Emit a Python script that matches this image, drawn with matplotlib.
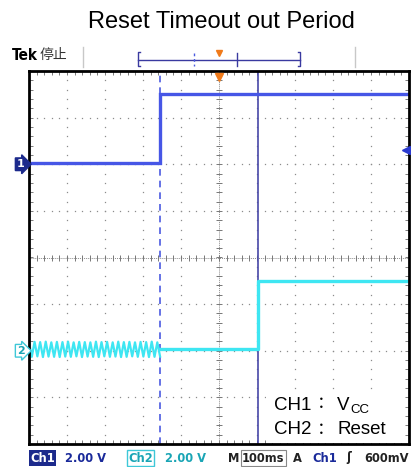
import matplotlib.pyplot as plt
import matplotlib.transforms as mtrans
from matplotlib.patches import Rectangle
import numpy as np

plt.rcParams['font.family'] = ['Liberation Sans', 'Noto Sans CJK SC', 'DejaVu Sans']

# time in ms (trigger at 0), 100 ms/div; volts at 2 V/div
t_rise = -155
t_reset = 103
ch1_t = [-500, t_rise, t_rise, 500]
ch1_v = [0.05, 0.05, 3.0, 3.0]
# CH2 before power-up: ringing peaks/troughs
ch2_ripple = [0.36, -0.26, 0.38, -0.24, 0.37, -0.27, 0.39, -0.25, 0.36, -0.26,
              0.38, -0.27, 0.37, -0.25, 0.39, -0.26, 0.36, -0.24, 0.38, -0.27,
              0.37, -0.25, 0.36, -0.26, 0.39, -0.27, 0.37, -0.24, 0.38, -0.26,
              0.36, -0.25, 0.39, -0.27, 0.37, -0.26, 0.38, -0.24, 0.36, -0.26,
              0.38, -0.25, 0.37, -0.27, 0.39, -0.26, 0.36, -0.25]
ch2_t = [t_rise, t_reset, t_reset, 500]
ch2_v = [0.08, 0.08, 3.0, 3.0]
ch1_off = 4.0   # ground marker +2 div
ch2_off = -4.0  # ground marker -2 div
trig_level = 0.6

W, H = 411, 467
def fx(x): return x / W
def fy(y): return 1 - y / H

fig = plt.figure(figsize=(W / 100, H / 100), dpi=100)
fig.text(fx(221), fy(22), 'Reset Timeout out Period', ha='center', va='center', fontsize=17)

ax = fig.add_axes([fx(29), fy(444), fx(409) - fx(29), fy(71) - fy(444)])
ax.set_xlim(-500, 500)
ax.set_ylim(-8, 8)
ax.set_xticks(np.arange(-500, 501, 20))
ax.set_yticks(np.arange(-8, 8.01, 0.4))
ax.tick_params(direction='in', length=3, width=0.6, color='#666666', top=True, right=True,
               labelbottom=False, labelleft=False)
for s in ax.spines.values():
    s.set_linewidth(2)
    s.set_color('black')

# 网格点
gc = '#8c8c8c'
for xv in range(-400, 401, 100):
    if xv == 0:
        continue
    yy = np.arange(-8, 8.01, 0.4)
    ax.plot(np.full_like(yy, xv), yy, ls='none', marker='s', ms=0.9, mew=0, color=gc)
for yv in [-6, -4, -2, 2, 4, 6]:
    xx = np.arange(-500, 501, 20)
    ax.plot(xx, np.full_like(xx, yv, dtype=float), ls='none', marker='s', ms=0.9, mew=0, color=gc)
# 中心十字
ax.axhline(0, color=gc, lw=0.7, ls=(0, (1, 1)))
ax.axvline(0, color=gc, lw=0.7, ls=(0, (1, 1)))
xx = np.arange(-500, 501, 20)
ax.plot(xx, np.zeros_like(xx), ls='none', marker='|', ms=5, mew=0.7, color='#777777')
yy = np.arange(-8, 8.01, 0.4)
ax.plot(np.zeros_like(yy), yy, ls='none', marker='_', ms=5, mew=0.7, color='#777777')

# 游标
ax.axvline(t_rise, color='#4a5ae0', lw=1.2, ls=(0, (4, 3)))
ax.axvline(t_reset, color='#4848a8', lw=1.2)

# 波形
ax.plot(ch1_t, np.array(ch1_v) + ch1_off, color='#4656e6', lw=2.4, solid_joinstyle='miter')
rt = np.linspace(-500, t_rise, len(ch2_ripple))
ax.plot(rt, np.array(ch2_ripple) + ch2_off, color='#3ee6f2', lw=1.6)
ax.plot(ch2_t, np.array(ch2_v) + ch2_off, color='#3ee6f2', lw=2.4)

# 触发标记
ax.plot([0], [7.75], marker='v', ms=6, color='#f07a1a', clip_on=False, zorder=5)
ax.plot([492], [ch1_off + trig_level], marker='<', ms=6, color='#2a3ad0', clip_on=False, zorder=5)
ax.plot([492, 500], [ch1_off + trig_level] * 2, color='#2a3ad0', lw=1.5, clip_on=False)

# 通道地线标记
bt = mtrans.blended_transform_factory(ax.transAxes, ax.transData)
ax.text(-0.012, ch1_off, '1', transform=bt, ha='right', va='center', color='white',
        fontsize=8, fontweight='bold', family='DejaVu Sans',
        bbox=dict(boxstyle='rarrow,pad=0.12', fc='#1c2a8c', ec='#1c2a8c'))
ax.text(-0.012, ch2_off, '2', transform=bt, ha='right', va='center', color='#1aa5b5',
        fontsize=8, fontweight='bold', family='DejaVu Sans',
        bbox=dict(boxstyle='rarrow,pad=0.12', fc='white', ec='#3ec8d8', lw=1))

# 说明文字
ax.add_patch(Rectangle((fx(266), fy(443)), fx(405) - fx(266), fy(390) - fy(443),
                       transform=fig.transFigure, fc='white', ec='none', zorder=6))
lab = dict(ha='left', va='center', fontsize=13.5, zorder=7)
colon = dict(ha='center', va='center', fontsize=12, zorder=7, family=['Noto Sans CJK TC'])
fig.text(fx(274), fy(405), 'CH1', **lab)
fig.text(fx(321), fy(405), '：', **colon)
fig.text(fx(337), fy(405), 'V', **lab)
fig.text(fx(350), fy(410), 'CC', ha='left', va='center', fontsize=9.5, zorder=7)
fig.text(fx(274), fy(430), 'CH2', **lab)
fig.text(fx(321), fy(430), '：', **colon)
fig.text(fx(337), fy(430), 'Reset', **lab)

# 顶部状态栏
fig.text(fx(12), fy(55), 'Tek', ha='left', va='center', fontsize=11, fontweight='bold',
         family='DejaVu Sans', fontstretch='condensed')
fig.text(fx(40), fy(55), '停止', ha='left', va='center', fontsize=10,
         family=['Noto Sans CJK SC'], color='#333333')
for xs in [83, 355]:
    fig.add_artist(plt.Line2D([fx(xs)] * 2, [fy(47), fy(67)], color='#c8c8c8', lw=1))
bar = '#3a3aa0'
fig.add_artist(plt.Line2D([fx(138), fx(300)], [fy(60), fy(60)], color=bar, lw=1))
fig.add_artist(plt.Line2D([fx(140), fx(138), fx(138), fx(140)], [fy(52), fy(52), fy(66), fy(66)], color=bar, lw=1))
fig.add_artist(plt.Line2D([fx(298), fx(300), fx(300), fx(298)], [fy(52), fy(52), fy(66), fy(66)], color=bar, lw=1))
fig.add_artist(plt.Line2D([fx(194)] * 2, [fy(53), fy(66)], color='#4a5ae0', lw=1, ls=(0, (2, 2))))
fig.add_artist(plt.Line2D([fx(237)] * 2, [fy(53), fy(66)], color=bar, lw=1))
fig.add_artist(plt.Line2D([fx(219)], [fy(53)], marker='v', ms=5, color='#f07a1a'))

# 底部状态栏
by = fy(458)
sb = dict(fontsize=9.2, fontweight='bold', family='DejaVu Sans', fontstretch='condensed',
          va='center', ha='left')
navy = '#1a2a9a'
teal = '#1aa5b5'
dark = '#222222'
fig.text(fx(30), by, 'Ch1', color='white', bbox=dict(boxstyle='square,pad=0.1', fc='#1c2a8c', ec='none'), **sb)
fig.text(fx(65), by, '2.00 V', color=navy, **sb)
fig.text(fx(128), by, 'Ch2', color=teal, bbox=dict(boxstyle='square,pad=0.1', fc='white', ec='#3ec8d8', lw=1), **sb)
fig.text(fx(165), by, '2.00 V', color=teal, **sb)
fig.text(fx(228), by, 'M', color=dark, **sb)
fig.text(fx(242), by, '100ms', color=dark, bbox=dict(boxstyle='square,pad=0.1', fc='white', ec='#888888', lw=0.8), **sb)
fig.text(fx(293), by, 'A', color=dark, **sb)
fig.text(fx(312), by, 'Ch1', color=navy, **sb)
fig.text(fx(346), by, 'ʃ', color=dark, **sb)
fig.text(fx(364), by, '600mV', color=dark, **sb)

fig.savefig('out.png', dpi=100)
